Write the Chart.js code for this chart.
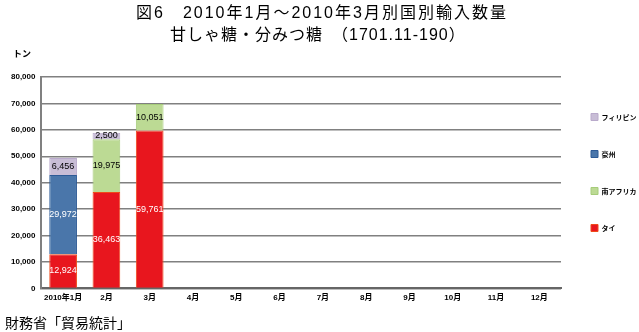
<!DOCTYPE html>
<html>
<head>
<meta charset="utf-8">
<script src="https://cdn.jsdelivr.net/npm/chart.js@4"></script>
<style>
    body { margin: 0; background: #fff; font-family: "Liberation Sans", "Noto Sans CJK JP", sans-serif; }
    #wrap { position: relative; width: 639px; height: 332px; }
    #chart_canvas { position: absolute; left: 0; top: 0; }
    .txt { position: absolute; color: #000; white-space: pre; }
</style>
</head>
<body>
<div id="wrap">
    <canvas id="chart_canvas" width="639" height="332"></canvas>
    <div class="txt" style="left:136px; top:3px; font-size:16px; line-height:20px; letter-spacing:2px;">図6　2010年1月～2010年3月別国別輸入数量</div>
    <div class="txt" style="left:170px; top:25px; font-size:16px; line-height:20px; letter-spacing:1px;">甘しゃ糖・分みつ糖　（1701.11-190）</div>
    <div class="txt" style="left:13px; top:47px; font-size:9px; font-weight:bold;">トン</div>
    <div class="txt" style="left:5px; top:312px; font-size:14px;">財務省「貿易統計」</div>
</div>
<script>
// months on the x axis
const months = ['2010年1月', '2月', '3月', '4月', '5月', '6月', '7月', '8月', '9月', '10月', '11月', '12月'];

// tonnes per country, bottom of the stack first
const thai = [12924, 36463, 59761, 0, 0, 0, 0, 0, 0, 0, 0, 0];
const australia = [29972, 0, 0, 0, 0, 0, 0, 0, 0, 0, 0, 0];
const southAfrica = [0, 19975, 10051, 0, 0, 0, 0, 0, 0, 0, 0, 0];
const philippines = [6456, 2500, 0, 0, 0, 0, 0, 0, 0, 0, 0, 0];

const yTicks = [0, 10000, 20000, 30000, 40000, 50000, 60000, 70000, 80000];
// legend order, top to bottom
const legendOrder = ['フィリピン', '豪州', '南アフリカ', 'タイ'];

// writes the value inside every segment
const barLabels = {
    id: 'barLabels',
    afterDatasetsDraw(chart) {
        const ctx = chart.ctx;
        ctx.save();
        ctx.font = '9px "Liberation Sans", sans-serif';
        ctx.textAlign = 'center';
        ctx.textBaseline = 'middle';
        chart.data.datasets.forEach((ds, i) => {
            const meta = chart.getDatasetMeta(i);
            meta.data.forEach((bar, j) => {
                const v = ds.data[j];
                if (!v) return;
                const p = bar.getProps(['x', 'y', 'base'], true);
                ctx.fillStyle = ds.labelColor;
                ctx.fillText(v.toLocaleString('en-US'), p.x, (p.y + p.base) / 2);
            });
        });
        ctx.restore();
    }
};

const tickFont = { size: 8, weight: 'bold', family: '"Liberation Sans", "Noto Sans CJK JP", sans-serif' };

const ctx = document.getElementById('chart_canvas').getContext('2d');
const chart = new Chart(ctx, {
    type: 'bar',
    data: {
        labels: months,
        datasets: [
            { label: 'タイ', data: thai, backgroundColor: '#e8161e', borderColor: '#f04a1a', borderWidth: 1, labelColor: '#fff' },
            { label: '豪州', data: australia, backgroundColor: '#4a76aa', borderColor: '#2d5a96', borderWidth: 1, labelColor: '#fff' },
            { label: '南アフリカ', data: southAfrica, backgroundColor: '#bcda94', borderColor: '#a6cc7a', borderWidth: 1, labelColor: '#000' },
            { label: 'フィリピン', data: philippines, backgroundColor: '#c8bdd6', borderColor: '#b9aacb', borderWidth: 1, labelColor: '#000' }
        ]
    },
    options: {
        responsive: false,
        animation: false,
        layout: { padding: { top: 77, left: 5, right: 0, bottom: 24 } },
        datasets: { bar: { categoryPercentage: 1, barPercentage: 0.64 } },
        scales: {
            x: {
                stacked: true,
                grid: { display: false, drawTicks: false },
                border: { color: '#666', width: 2 },
                ticks: { color: '#000', font: tickFont, maxRotation: 0, autoSkip: false, padding: 5 }
            },
            y: {
                stacked: true,
                min: 0,
                max: 80000,
                afterBuildTicks: (axis) => { axis.ticks = yTicks.map(v => ({ value: v })); },
                grid: { color: '#808080', lineWidth: 1.5, drawTicks: false },
                border: { color: '#808080', width: 2 },
                ticks: {
                    color: '#000',
                    padding: 6,
                    font: tickFont,
                    callback: (v) => v.toLocaleString('en-US')
                }
            }
        },
        plugins: {
            legend: {
                position: 'right',
                align: 'start',
                maxWidth: 78,
                title: { display: true, text: '', padding: 0, font: { size: 6.5, lineHeight: 1 } },
                labels: {
                    boxWidth: 7,
                    boxHeight: 7,
                    padding: 30,
                    color: '#000',
                    font: { size: 7, weight: 'bold', family: '"Noto Sans CJK JP", sans-serif' },
                    sort: (a, b) => legendOrder.indexOf(a.text) - legendOrder.indexOf(b.text)
                }
            },
            tooltip: { enabled: false }
        }
    },
    plugins: [barLabels]
});
</script>
</body>
</html>
